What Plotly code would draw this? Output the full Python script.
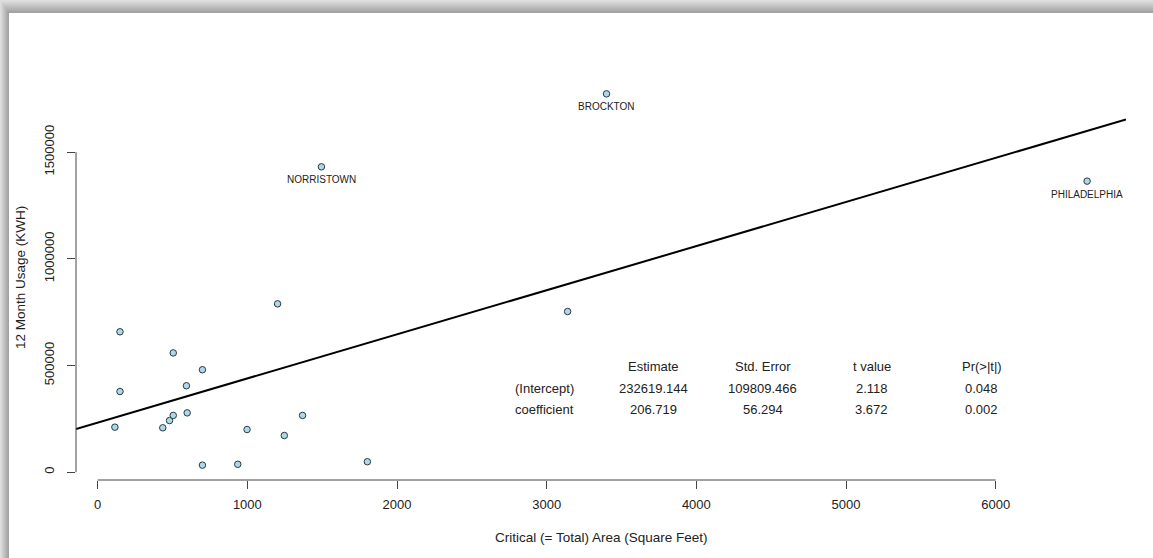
import plotly.graph_objects as go

# ---------------- data ----------------
area = [149, 505, 700, 593, 149, 115, 435, 480, 505, 598, 998, 1247, 1369,
        700, 936, 1802, 1202, 3140, 1495, 3400, 6611]
usage = [658000, 559000, 480000, 405000, 378000, 211000, 208000, 242000, 266000,
         278000, 200000, 172000, 266000, 33000, 37000, 49000, 789000, 753000,
         1431000, 1773000, 1364000]
site = [""] * 18 + ["NORRISTOWN", "BROCKTON", "PHILADELPHIA"]

coef_rows = ["(Intercept)", "coefficient"]
coef_cols = ["Estimate", "Std. Error", "t value", "Pr(>|t|)"]
estimate = [232619.144, 206.719]
std_error = [109809.466, 56.294]
t_value = [2.118, 3.672]
p_value = [0.048, 0.002]

x_ticks = [0, 1000, 2000, 3000, 4000, 5000, 6000]
y_ticks = [0, 500000, 1000000, 1500000]
x_title = "Critical (= Total) Area (Square Feet)"
y_title = "12 Month Usage (KWH)"

# ---------------- build ----------------
FONT = "Liberation Sans, Arial, sans-serif"
TXT = "#222222"
W, H = 1153, 558
ML, MR, MT, MB = 76, 27, 79, 78
PW, PH = W - ML - MR, H - MT - MB


def px(x):
    return (x - ML) / PW


def py(y):
    return (H - MB - y) / PH


def pad_range(v):
    lo, hi = min(v), max(v)
    s = hi - lo
    return [lo - 0.04 * s, hi + 0.04 * s]


xr = pad_range(area)
yr = pad_range(usage)

fig = go.Figure()

# regression line (abline) across the plot region
b0, b1 = estimate
fig.add_trace(go.Scatter(
    x=xr, y=[b0 + b1 * xr[0], b0 + b1 * xr[1]], mode="lines",
    line=dict(color="black", width=2), hoverinfo="skip", showlegend=False))

fig.add_trace(go.Scatter(
    x=area, y=usage, mode="markers",
    marker=dict(size=6.5, color="#ADD8E6", line=dict(color="#2b3a44", width=1)),
    showlegend=False))

annotations = []
for xv, yv, s in zip(area, usage, site):
    if s:
        annotations.append(dict(x=xv, y=yv, text=s, showarrow=False, yshift=-13,
                                xanchor="center", yanchor="middle",
                                font=dict(family=FONT, size=10, color=TXT)))

# coefficient table
col_x = [px(544), px(653.5), px(762.7), px(871.7), px(981.7)]
row_y = [py(366.7), py(388), py(409.3)]
cells = [[f"{estimate[i]:.3f}", f"{std_error[i]:.3f}", f"{t_value[i]:.3f}",
          f"{p_value[i]:.3f}"] for i in range(2)]
for j, c in enumerate(coef_cols):
    annotations.append(dict(x=col_x[j + 1], y=row_y[0], xref="paper", yref="paper",
                            text=c, showarrow=False, xanchor="center", yanchor="middle",
                            font=dict(family=FONT, size=13, color=TXT)))
for i, r in enumerate(coef_rows):
    annotations.append(dict(x=col_x[0], y=row_y[i + 1], xref="paper", yref="paper",
                            text=r, showarrow=False, xanchor="center", yanchor="middle",
                            font=dict(family=FONT, size=13, color=TXT)))
    for j, v in enumerate(cells[i]):
        annotations.append(dict(x=col_x[j + 1], y=row_y[i + 1], xref="paper",
                                yref="paper", text=v, showarrow=False,
                                xanchor="center", yanchor="middle",
                                font=dict(family=FONT, size=13, color=TXT)))

# axis titles
annotations.append(dict(x=0.5, y=py(537), xref="paper", yref="paper", text=x_title,
                        showarrow=False, xanchor="center", yanchor="middle",
                        font=dict(family=FONT, size=13.5, color=TXT)))
annotations.append(dict(x=px(20), y=py(277), xref="paper", yref="paper", text=y_title,
                        textangle=-90, showarrow=False, xanchor="center",
                        yanchor="middle", font=dict(family=FONT, size=13.5, color=TXT)))

# background frame with drop shadow
shapes = []
n = 8
x_in, y_in = 9, 13
for i in range(n):
    t = i / (n - 1)
    g = int(222 - 60 * t)
    shapes.append(dict(type="rect", xref="paper", yref="paper", layer="below",
                       x0=px(x_in * i / n), y0=py(y_in * i / n), x1=px(W + 20), y1=py(H + 20),
                       fillcolor=f"rgb({g},{g},{g})", line=dict(width=0)))
shapes.append(dict(type="rect", xref="paper", yref="paper", layer="below",
                   x0=px(x_in), y0=py(y_in), x1=px(W + 20), y1=py(H + 20),
                   fillcolor="white", line=dict(width=0)))

# R-style axis lines spanning first to last tick
AX = "#444444"
shapes.append(dict(type="line", xref="x", yref="paper", x0=x_ticks[0], x1=x_ticks[-1],
                   y0=0, y1=0, line=dict(color=AX, width=1)))
shapes.append(dict(type="line", xref="paper", yref="y", x0=0, x1=0,
                   y0=y_ticks[0], y1=y_ticks[-1], line=dict(color=AX, width=1)))

fig.update_layout(
    width=W, height=H,
    margin=dict(l=ML, r=MR, t=MT, b=MB, pad=0),
    paper_bgcolor="rgb(222,222,222)", plot_bgcolor="rgba(0,0,0,0)",
    annotations=annotations, shapes=shapes, showlegend=False,
    font=dict(family=FONT, color=TXT),
)
fig.update_xaxes(range=xr, tickvals=x_ticks, ticktext=[str(v) for v in x_ticks],
                 showgrid=False, zeroline=False, showline=False,
                 ticks="outside", ticklen=8, tickcolor=AX, tickwidth=1,
                 ticklabelstandoff=4,
                 tickfont=dict(family=FONT, size=13, color=TXT))
fig.update_yaxes(range=yr, tickvals=y_ticks, ticktext=[str(v) for v in y_ticks],
                 showgrid=False, zeroline=False, showline=False,
                 ticks="outside", ticklen=8, tickcolor=AX, tickwidth=1,
                 tickangle=-90, ticklabelstandoff=8,
                 tickfont=dict(family=FONT, size=13, color=TXT))

fig.write_html("out.html",
               config={"displayModeBar": False},
               post_script="document.body.style.margin='0';"
                           "document.body.style.overflow='hidden';")
